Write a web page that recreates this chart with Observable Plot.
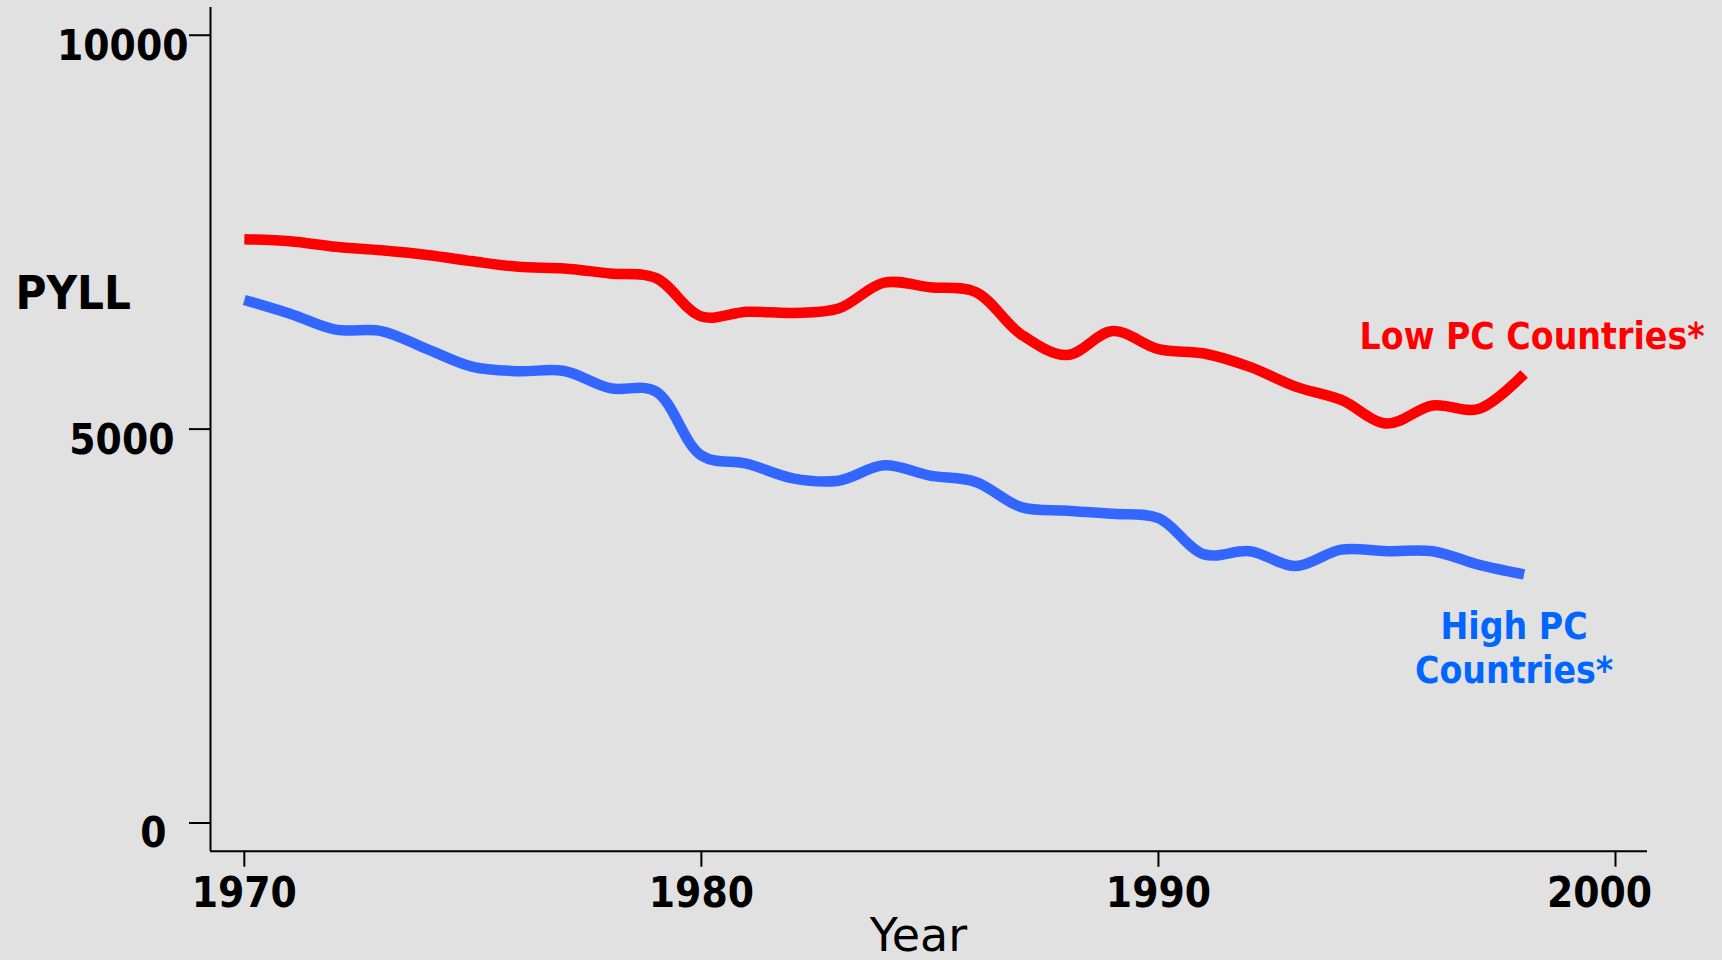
<!DOCTYPE html>
<html>
<head>
<meta charset="utf-8">
<script src="https://cdn.jsdelivr.net/npm/d3@7"></script>
<script src="https://cdn.jsdelivr.net/npm/@observablehq/plot@0.6"></script>
<style>
  html, body { margin: 0; padding: 0; background: #e1e1e1; }
  #chart svg { display: block; }
</style>
</head>
<body>
<div id="chart"></div>
<script>
// ---- data ----
const years = [1970, 1971, 1972, 1973, 1974, 1975, 1976, 1977, 1978, 1979,
               1980, 1981, 1982, 1983, 1984, 1985, 1986, 1987, 1988, 1989,
               1990, 1991, 1992, 1993, 1994, 1995, 1996, 1997, 1998];
const lowPC = [7410, 7385, 7315, 7270, 7210, 7130, 7060, 7040, 6975, 6920,
               6430, 6490, 6475, 6530, 6860, 6800, 6740, 6200, 5940, 6245,
               6015, 5960, 5790, 5540, 5370, 5070, 5300, 5255, 5700];
const highPC = [6640, 6465, 6262, 6245, 6015, 5790, 5735, 5738, 5520, 5480,
                4665, 4560, 4375, 4345, 4540, 4410, 4330, 4010, 3965, 3925,
                3870, 3410, 3450, 3262, 3470, 3450, 3450, 3280, 3155];
const seriesNames = ["Low PC Countries*", "High PC Countries*"];
const seriesLabels = ["Low PC Countries*", "High PC\nCountries*"];
const xTickValues = [1970, 1980, 1990, 2000];
const yTickValues = [0, 5000, 10000];
const yLabel = "PYLL";
const xLabel = "Year";

// ---- build table ----
const rows = [];
years.forEach((yr, i) => {
  rows.push({year: yr, value: lowPC[i], series: seriesNames[0]});
  rows.push({year: yr, value: highPC[i], series: seriesNames[1]});
});
const last = years.length - 1;
const lowEnd = [{year: years[last], value: lowPC[last], label: seriesLabels[0]}];
const highEnd = [{year: years[last], value: highPC[last], label: seriesLabels[1]}];

const FONT_C = "'DejaVu Sans Condensed', 'DejaVu Sans', sans-serif";
const FONT_N = "'DejaVu Sans', sans-serif";
const RED = "#ff0000", BLUE_LINE = "#3366ff", BLUE_TEXT = "#0066ff";
const xDomain = [1969.26, 2000.70];
const yDomain = [-358, 10352];

const tickText = {fontSize: 42, fontWeight: "bold", fontFamily: FONT_C, fontVariant: "normal", stroke: "none", label: null, tickFormat: d => String(d)};
// small horizontal nudges of the y tick labels, as in the original slide
const yLabelNudge = [-14, -6, 8];

const chart = Plot.plot({
  width: 1722,
  height: 960,
  marginLeft: 210,
  marginRight: 75,
  marginTop: 7,
  marginBottom: 109.3,
  x: {domain: xDomain, axis: null},
  y: {domain: yDomain, axis: null},
  color: {domain: seriesNames, range: [RED, BLUE_LINE]},
  style: {background: "#e1e1e1", color: "black", fontFamily: FONT_C, overflow: "visible"},
  marks: [
    // axis lines
    Plot.ruleX([xDomain[0]], {stroke: "black", strokeWidth: 2}),
    Plot.ruleY([yDomain[0]], {stroke: "black", strokeWidth: 2}),
    // tick marks only
    Plot.axisY(yTickValues, {anchor: "left", tickSize: 21, strokeWidth: 2, fill: "none", label: null}),
    Plot.axisX(xTickValues, {anchor: "bottom", tickSize: 16, strokeWidth: 2, fill: "none", label: null}),
    // tick labels only
    ...yTickValues.map((v, i) =>
      Plot.axisY([v], {anchor: "left", tickSize: 21, tickPadding: 9, dy: 11, dx: yLabelNudge[i], ...tickText})),
    Plot.axisX(xTickValues.slice(0, 3), {anchor: "bottom", tickSize: 16, tickPadding: 10, ...tickText}),
    Plot.axisX(xTickValues.slice(3), {anchor: "bottom", tickSize: 16, tickPadding: 10, dx: -16, ...tickText}),
    // series
    Plot.line(rows, {
      x: "year", y: "value", z: "series", stroke: "series",
      strokeWidth: 10.5, curve: "catmull-rom", strokeLinecap: "butt", strokeLinejoin: "round"
    }),
    // series labels
    Plot.text(lowEnd, {
      x: "year", y: "value", text: "label", fill: RED,
      fontSize: 37, fontWeight: "bold", fontFamily: FONT_C,
      textAnchor: "middle", lineAnchor: "middle", dx: 8, dy: -37
    }),
    Plot.text(highEnd, {
      x: "year", y: "value", text: "label", fill: BLUE_TEXT,
      fontSize: 37, fontWeight: "bold", fontFamily: FONT_C, lineHeight: 1.19,
      textAnchor: "middle", lineAnchor: "middle", dx: -10, dy: 72
    }),
    // axis titles
    Plot.text([yLabel], {
      frameAnchor: "left", textAnchor: "start", lineAnchor: "middle", dx: -195, dy: -135,
      fontSize: 47, fontWeight: "bold", fontFamily: FONT_C, fill: "black"
    }),
    Plot.text([xLabel], {
      frameAnchor: "bottom", textAnchor: "middle", lineAnchor: "middle", dx: -10.5, dy: 85,
      fontSize: 46, fontWeight: "normal", fontFamily: FONT_N, fill: "black"
    })
  ]
});
document.getElementById("chart").appendChild(chart);
</script>
</body>
</html>
